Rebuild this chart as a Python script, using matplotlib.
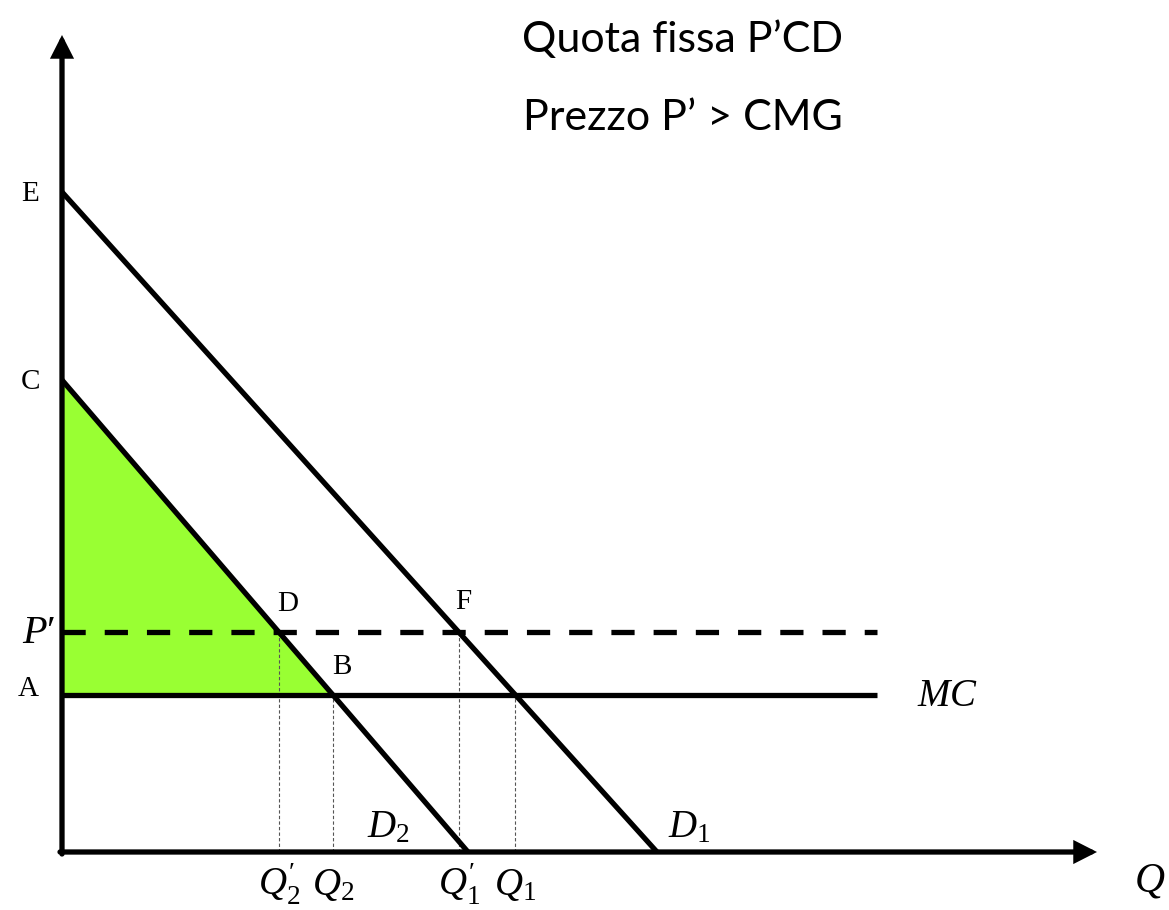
import matplotlib
matplotlib.use("Agg")
import matplotlib.pyplot as plt
from matplotlib.patches import Polygon

plt.rcParams['mathtext.fontset'] = 'custom'
plt.rcParams['mathtext.rm'] = 'Liberation Serif'
plt.rcParams['mathtext.it'] = 'Liberation Serif:italic'
plt.rcParams['mathtext.bf'] = 'Liberation Serif:bold'

# ---- data (economic values, arbitrary units) ----
demand_names = ["D1", "D2"]
price_intercepts = [66.0, 47.2]      # E, C
quantity_intercepts = [59.5, 40.6]   # D1, D2 on Q axis
price_mc = 15.7                      # A (marginal cost)
price_fixed = 22.0                   # P'
line_end_q = 81.5                    # where P' and MC lines stop
axis_q_max = 103.5
axis_p_max = 81.7
title_lines = ["Quota fissa P\u2019CD", "Prezzo P\u2019 > CMG"]

def q_at(p, i):
    return quantity_intercepts[i] * (1 - p / price_intercepts[i])

fig = plt.figure(figsize=(11.69, 9.10), dpi=100)
ax = fig.add_axes([0, 0, 1, 1])
ax.set_xlim(-6.2, 110.7)
ax.set_ylim(-5.8, 85.2)
ax.axis('off')

LW = 3.8
qB = q_at(price_mc, 1)
poly = Polygon([(0, price_mc), (0, price_intercepts[1]), (qB, price_mc)],
               closed=True, facecolor='#99FF33', edgecolor='none', zorder=1)
ax.add_patch(poly)

qD = q_at(price_fixed, 1)
qF = q_at(price_fixed, 0)
qQ1 = q_at(price_mc, 0)
for q, p in [(qD, price_fixed), (qB, price_mc), (qF, price_fixed), (qQ1, price_mc)]:
    ax.plot([q, q], [0, p], color='#555555', lw=0.8, dashes=(3, 2), zorder=2)

for i in range(2):
    ax.plot([0, quantity_intercepts[i]], [price_intercepts[i], 0], color='k', lw=LW,
            solid_capstyle='butt', zorder=3)

ax.plot([0, line_end_q], [price_mc, price_mc], color='k', lw=LW, solid_capstyle='butt', zorder=3)
ax.plot([0, line_end_q], [price_fixed, price_fixed], color='k', lw=LW,
        dashes=(4.4, 3.6), dash_capstyle='butt', zorder=3)

arrow_kw = dict(arrowstyle='-|>,head_length=0.55,head_width=0.28', color='k', lw=LW,
                mutation_scale=20, shrinkA=0, shrinkB=0, joinstyle='miter')
ax.annotate('', xy=(axis_q_max, 0), xytext=(-0.2, 0), arrowprops=arrow_kw, zorder=4)
ax.annotate('', xy=(0, axis_p_max), xytext=(0, -0.2), arrowprops=arrow_kw, zorder=4)

serif = 'Liberation Serif'
fs = 21
ax.text(-3.2, price_intercepts[0] - 0.2, 'E', family=serif, fontsize=fs, ha='center', va='center')
ax.text(-3.2, price_intercepts[1] - 0.2, 'C', family=serif, fontsize=fs, ha='center', va='center')
ax.text(-3.4, price_mc + 0.6, 'A', family=serif, fontsize=fs, ha='center', va='center')
ax.text(-2.3, price_fixed, "$P\u2032$", fontsize=29, ha='center', va='center')
ax.text(qD + 0.9, price_fixed + 2.8, 'D', family=serif, fontsize=fs, ha='center', va='center')
ax.text(qB + 0.9, price_mc + 2.8, 'B', family=serif, fontsize=fs, ha='center', va='center')
ax.text(qF + 0.5, price_fixed + 3.0, 'F', family=serif, fontsize=fs, ha='center', va='center')
ax.text(line_end_q + 7.1, price_mc, r'$MC$', fontsize=28, ha='center', va='center')
ax.text(quantity_intercepts[1] - 8.0, 2.6, r'$D_2$', fontsize=28, ha='center', va='center')
ax.text(quantity_intercepts[0] + 3.2, 2.6, r'$D_1$', fontsize=28, ha='center', va='center')
ax.text(axis_q_max + 5.3, -2.8, r'$Q$', fontsize=30, ha='center', va='center')
for q, lab in [(qD, "$Q^{\u2032}_2$"), (qB, r"$Q_2$"), (qF, "$Q^{\u2032}_1$"), (qQ1, r"$Q_1$")]:
    ax.text(q, -3.2, lab, fontsize=28, ha='center', va='center')

ax.text(62.1, 81.2, title_lines[0], family='Lato', fontsize=31, ha='center', va='center')
ax.text(62.1, 73.4, title_lines[1], family='Lato', fontsize=31, ha='center', va='center')

fig.savefig('out.png', dpi=100)
